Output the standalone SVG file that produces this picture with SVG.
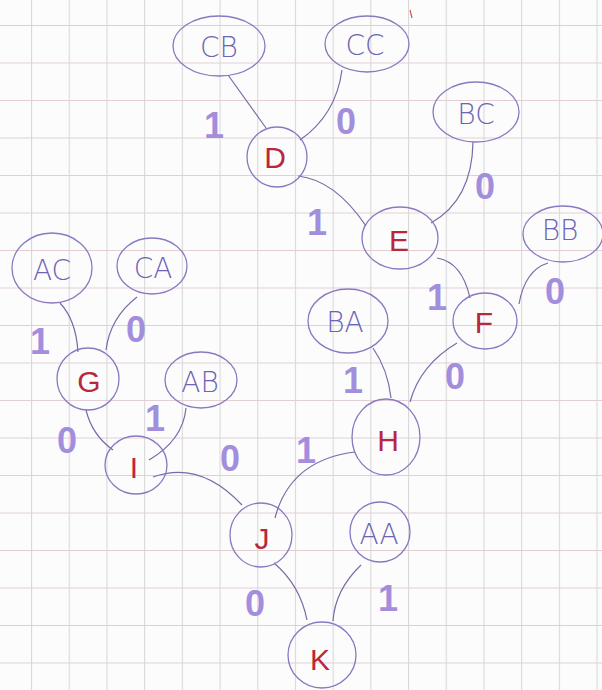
<svg xmlns="http://www.w3.org/2000/svg" width="602" height="690" viewBox="0 0 602 690">
<defs>
<pattern id="gv" x="31" y="0" width="37.7" height="690" patternUnits="userSpaceOnUse">
<line x1="0.5" y1="0" x2="0.5" y2="690" stroke="#d9d9d9" stroke-width="1.2"/>
</pattern>
<pattern id="gh" x="0" y="25" width="602" height="37.5" patternUnits="userSpaceOnUse">
<line x1="0" y1="0.5" x2="602" y2="0.5" stroke="#e2cfd4" stroke-width="1.2"/>
</pattern>
</defs>
<style>
.n{fill:none;stroke:#8a78c0;stroke-width:1.3}
.c{fill:none;stroke:#7a6aa8;stroke-width:1.2}
.lf{font-family:"DejaVu Sans","Liberation Sans",sans-serif;font-weight:200;font-size:28px;fill:#6c64b4;text-anchor:middle;dominant-baseline:central}
.in{font-family:"Liberation Sans",sans-serif;font-size:30px;fill:#b8283c;text-anchor:middle;dominant-baseline:central}
.w{font-family:"Liberation Sans",sans-serif;font-weight:bold;font-size:36px;fill:#a38ede;text-anchor:middle;dominant-baseline:central}
</style>
<rect width="602" height="690" fill="#fcfcfc"/>
<rect width="602" height="690" fill="url(#gv)"/>
<rect width="602" height="690" fill="url(#gh)"/>
<path d="M410 10 L412 18" stroke="#d05050" stroke-width="1.2" fill="none"/>
<g id="connectors">
<path class="c" d="M228 75 Q246 100 266 128"/>
<path class="c" d="M342 70 Q336 115 300 140"/>
<path class="c" d="M298 176 Q335 180 366 226"/>
<path class="c" d="M473 142 Q472 200 431 223"/>
<path class="c" d="M437 258 Q462 262 470 298"/>
<path class="c" d="M548 263 Q525 270 519 304"/>
<path class="c" d="M373 348 Q388 370 391 398"/>
<path class="c" d="M457 343 Q420 365 410 402"/>
<path class="c" d="M60 303 Q76 320 78 352"/>
<path class="c" d="M137 297 Q110 318 106 350"/>
<path class="c" d="M86 410 Q92 435 113 450"/>
<path class="c" d="M186 408 Q183 440 149 460"/>
<path class="c" d="M153 477 Q200 460 242 505"/>
<path class="c" d="M355 452 Q290 460 275 518"/>
<path class="c" d="M274 563 Q300 585 307 620"/>
<path class="c" d="M361 565 Q335 590 333 621"/>
</g>
<g id="CB"><ellipse class="n" cx="219" cy="46" rx="46" ry="30"/><text class="lf" x="219" y="47">CB</text></g>
<g id="CC"><ellipse class="n" cx="367" cy="44" rx="42" ry="28"/><text class="lf" x="365" y="45">CC</text></g>
<g id="D"><ellipse class="n" cx="277" cy="157" rx="30" ry="30"/><text class="in" x="275" y="157">D</text></g>
<g id="BC"><ellipse class="n" cx="476" cy="112" rx="43" ry="30"/><text class="lf" x="476" y="114">BC</text></g>
<g id="E"><ellipse class="n" cx="400" cy="238" rx="38" ry="31"/><text class="in" x="399" y="240">E</text></g>
<g id="BB"><ellipse class="n" cx="563" cy="234" rx="40" ry="28"/><text class="lf" x="560" y="230">BB</text></g>
<g id="F"><ellipse class="n" cx="485" cy="321" rx="32" ry="28"/><text class="in" x="484" y="322">F</text></g>
<g id="BA"><ellipse class="n" cx="348" cy="321" rx="40" ry="32"/><text class="lf" x="345" y="322">BA</text></g>
<g id="H"><ellipse class="n" cx="386" cy="437" rx="34" ry="38"/><text class="in" x="388" y="440">H</text></g>
<g id="AC"><ellipse class="n" cx="52" cy="268" rx="40" ry="35"/><text class="lf" x="52" y="270">AC</text></g>
<g id="CA"><ellipse class="n" cx="152" cy="266" rx="35" ry="28"/><text class="lf" x="153" y="268">CA</text></g>
<g id="G"><ellipse class="n" cx="88" cy="379" rx="31" ry="31"/><text class="in" x="89" y="381">G</text></g>
<g id="AB"><ellipse class="n" cx="201" cy="380" rx="36" ry="28"/><text class="lf" x="200" y="382">AB</text></g>
<g id="I"><ellipse class="n" cx="136" cy="465" rx="31" ry="29"/><text class="in" x="134" y="467">I</text></g>
<g id="J"><ellipse class="n" cx="261" cy="535" rx="31" ry="32"/><text class="in" x="262" y="538">J</text></g>
<g id="AA"><ellipse class="n" cx="380" cy="532" rx="30" ry="30"/><text class="lf" x="379" y="534">AA</text></g>
<g id="K"><ellipse class="n" cx="322" cy="655" rx="34" ry="33"/><text class="in" x="320" y="659">K</text></g>
<g id="weights">
<text class="w" x="214" y="125">1</text>
<text class="w" x="346" y="121">0</text>
<text class="w" x="485" y="186">0</text>
<text class="w" x="317" y="222">1</text>
<text class="w" x="437" y="297">1</text>
<text class="w" x="555" y="291">0</text>
<text class="w" x="40" y="341">1</text>
<text class="w" x="136" y="329">0</text>
<text class="w" x="155" y="418">1</text>
<text class="w" x="67" y="440">0</text>
<text class="w" x="230" y="458">0</text>
<text class="w" x="306" y="450">1</text>
<text class="w" x="353" y="380">1</text>
<text class="w" x="455" y="376">0</text>
<text class="w" x="255" y="603">0</text>
<text class="w" x="388" y="598">1</text>
</g>
</svg>
